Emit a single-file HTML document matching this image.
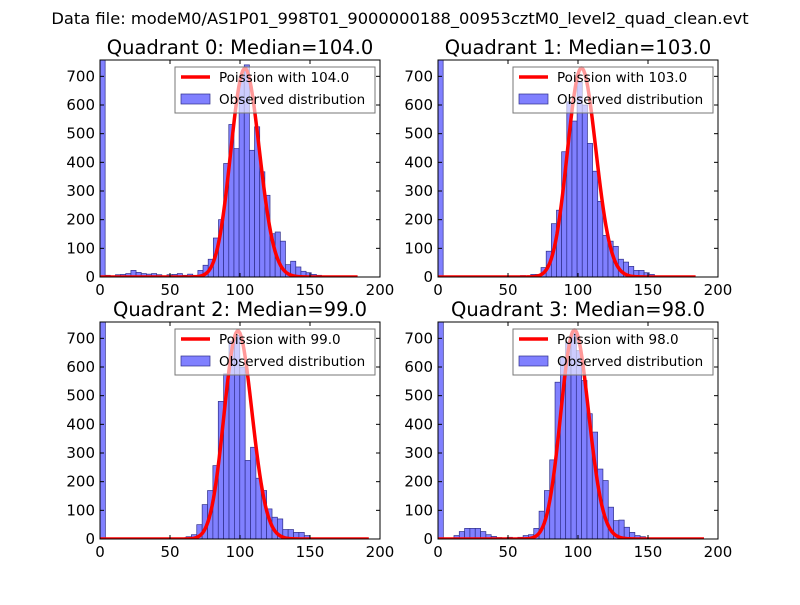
<!DOCTYPE html>
<html><head><meta charset="utf-8"><style>
body{margin:0;background:#fff}
svg text{font-family:"DejaVu Sans","Liberation Sans",sans-serif}
</style></head><body>
<svg id="fig" width="800" height="600" xmlns="http://www.w3.org/2000/svg">
<rect width="800" height="600" fill="#fff"/>
<text x="400" y="24" font-size="16.3" text-anchor="middle">Data file: modeM0/AS1P01_998T01_9000000188_00953cztM0_level2_quad_clean.evt</text>
</svg>
<script>
const medians=[104.0,103.0,99.0,98.0];
const binWidths=[3.68,3.68,3.84,3.8];
const counts0=[758,6,0,8,9,12,23,16,12,10,12,8,0,8,9,12,6,10,6,23,41,62,136,200,396,532,448,700,740,442,524,367,285,151,157,125,43,55,35,20,15,9,6,3,3,0,0,0,0,0];
const counts1=[758,0,0,0,0,0,0,0,0,0,0,0,0,0,0,0,5,3,9,9,33,90,186,233,437,611,544,680,600,466,369,264,145,125,107,62,52,37,23,23,15,9,3,0,0,0,0,0,0,0];
const counts2=[758,0,0,0,0,0,0,0,0,0,0,0,0,0,3,3,8,15,50,120,169,256,480,576,690,710,600,274,320,212,169,105,76,70,33,33,23,23,12,3,0,0,0,0,0,0,0,0,0,0];
const counts3=[758,0,0,12,26,37,37,37,26,15,9,5,3,6,3,6,12,15,37,97,169,276,547,634,687,718,657,553,437,373,244,204,111,64,66,41,23,12,8,3,0,0,0,0,0,0,0,0,0,0];
const curveScale=[18600,18550,18100,18100];
const curveMax=[184,184,192,190];
const xTicks=[0,50,100,150,200];
const yTicks=[0,100,200,300,400,500,600,700];
const allCounts=[counts0,counts1,counts2,counts3];
const NS="http://www.w3.org/2000/svg";
const svg=document.getElementById('fig');
function mk(tag,attrs,parent){const e=document.createElementNS(NS,tag);for(const k in attrs)e.setAttribute(k,attrs[k]);(parent||svg).appendChild(e);return e;}
function logPois(k,l){let s=-l+k*Math.log(l);for(let i=2;i<=k;i++)s-=Math.log(i);return s;}
const boxes=[[100,60],[438,60],[100,322],[438,322]];
const W=280,H=217,YMAX=757,XMAX=200;
for(let p=0;p<4;p++){
  const [L,T]=boxes[p];
  const g=mk('g',{});
  
  
  const X=v=>L+v/XMAX*W, Y=v=>T+H-Math.min(v,YMAX)/YMAX*H;
  const clip=mk('clipPath',{id:'c'+p},g);mk('rect',{x:L,y:T,width:W,height:H},clip);
  const bars=mk('g',{'clip-path':'url(#c'+p+')'},g);
  const c=allCounts[p],bw=binWidths[p];
  c.forEach((v,i)=>{if(v<=0)return;
    const r=mk('rect',{x:X(i*bw),y:Y(v),width:X(bw)-X(0),height:Y(0)-Y(v),fill:'#8080ff',stroke:'#2e2e8a','stroke-width':0.7},bars);
    
    
  });
  let d='';
  for(let k=0;k<=curveMax[p];k++){const v=curveScale[p]*Math.exp(logPois(k,medians[p]));d+=(k?'L':'M')+X(k).toFixed(1)+','+Y(v).toFixed(1);}
  const ln=mk('path',{d:d,fill:'none',stroke:'#ff0000','stroke-width':3.5,'stroke-linejoin':'round'},bars);
  
  
  mk('rect',{x:L,y:T,width:W,height:H,fill:'none',stroke:'#000','stroke-width':1},g);
  xTicks.forEach(t=>{
    mk('line',{x1:X(t),x2:X(t),y1:T+H,y2:T+H-4,stroke:'#000'},g);
    mk('line',{x1:X(t),x2:X(t),y1:T,y2:T+4,stroke:'#000'},g);
    const tx=mk('text',{x:X(t),y:T+H+18,'font-size':15,'text-anchor':'middle'},g);tx.textContent=t;
    
    
  });
  yTicks.forEach(t=>{
    mk('line',{x1:L,x2:L+4,y1:Y(t),y2:Y(t),stroke:'#000'},g);
    mk('line',{x1:L+W,x2:L+W-4,y1:Y(t),y2:Y(t),stroke:'#000'},g);
    const tx=mk('text',{x:L-5,y:Y(t)+5,'font-size':15,'text-anchor':'end'},g);tx.textContent=t;
    
    
  });
  const ti=mk('text',{x:L+W/2,y:T-6,'font-size':19.5,'text-anchor':'middle'},g);
  ti.textContent='Quadrant '+p+': Median='+medians[p].toFixed(1);
  
  
  const lg=mk('g',{},g);
  
  
  mk('rect',{x:L+75,y:T+7,width:200,height:46,fill:'#fff','fill-opacity':0.6,stroke:'#777','stroke-width':1},lg);
  mk('line',{x1:L+81,x2:L+110,y1:T+17,y2:T+17,stroke:'#ff0000','stroke-width':3.5},lg);
  const t1=mk('text',{x:L+119,y:T+22,'font-size':13.5},lg);t1.textContent='Poission with '+medians[p].toFixed(1);
  
  
  mk('rect',{x:L+81,y:T+34,width:29,height:10,fill:'#8080ff',stroke:'#2e2e8a','stroke-width':0.7},lg);
  const t2=mk('text',{x:L+119,y:T+44,'font-size':13.5},lg);t2.textContent='Observed distribution';
  
  
}
</script>
</body></html>
